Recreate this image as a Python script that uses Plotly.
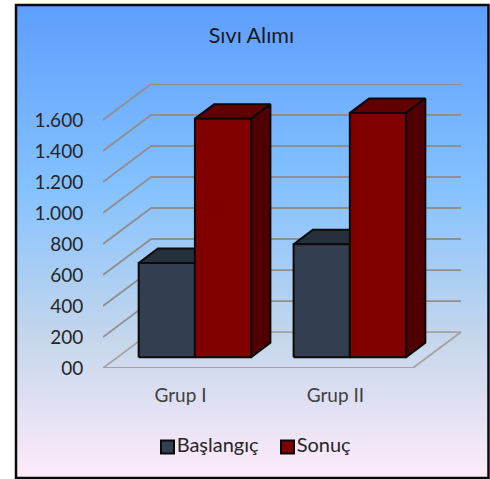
import plotly.graph_objects as go

# Chart content
title = "Sıvı Alımı"
groups = ["Grup I", "Grup II"]
series_names = ["Başlangıç", "Sonuç"]
baslangic = [608, 729]
sonuc = [1539, 1576]
y_ticks = [0, 200, 400, 600, 800, 1000, 1200, 1400, 1600]
y_tick_labels = ["00", "200", "400", "600", "800", "1.000", "1.200", "1.400", "1.600"]

# Colours: front, top, side of each series
styles = [
    {"front": "#333F50", "top": "#262F3C", "side": "#262F3C"},
    {"front": "#800000", "top": "#600000", "side": "#500000"},
]
gradient = [[0, "#FFEBFA"], [0.30, "#C4D6EB"], [0.61, "#85C2FF"], [1, "#5E9EFF"]]
GRID = "#8F8F8F"
FLOOR = "#A3A3A3"
TEXT = "#262626"
OUTLINE = "#0A0A0A"
FONT = "Lato"

# Page and frame, in pixels
W, H = 490, 479
FRAME_L, FRAME_R, FRAME_T, FRAME_B = 16, 488.5, 5, 478

# Oblique projection: depth 0 is the front of the floor, depth 1 the back wall
LEFT, RIGHT, BOTTOM, TOP = 103, 461, 368, 84
DX = 0.3107      # category units of horizontal shift over the full depth
DY = 232         # value units of vertical shift over the full depth
X_MAX = len(groups) + DX
Y_MAX = 1832
BAR_W = 0.363
D_FRONT, D_BACK = 0.30, 0.70

# Key placement on the backdrop axes, which run in page pixels
KEY_X = [167.5, 287.5]
KEY_Y = 447


def project(cat, value, depth):
    return cat + depth * DX, value + depth * DY


def polygon(points):
    xs, ys = zip(*[project(*p) for p in points + points[:1]])
    return list(xs), list(ys)


def face(points, fill):
    xs, ys = polygon(points)
    return go.Scatter(
        x=xs, y=ys, mode="lines", fill="toself", fillcolor=fill,
        line=dict(color=OUTLINE, width=2), xaxis="x2", yaxis="y2",
        hoverinfo="skip", showlegend=False,
    )


fig = go.Figure()

# Full-frame gradient backdrop
fig.add_trace(go.Heatmap(
    x=[FRAME_L, FRAME_R], y=[FRAME_T, FRAME_B], z=[[1, 1], [0, 0]],
    colorscale=gradient, zmin=0, zmax=1,
    zsmooth="best", showscale=False, hoverinfo="skip",
))

# Series key: square swatch followed by the series name
for name, st, kx in zip(series_names, styles, KEY_X):
    fig.add_trace(go.Scatter(
        x=[kx], y=[KEY_Y], mode="markers+text", name=name, text=[name],
        textposition="middle right",
        textfont=dict(family=FONT, size=20, color=TEXT),
        marker=dict(symbol="square", size=13, color=st["front"], line=dict(color=OUTLINE, width=2)),
        hoverinfo="name", showlegend=False,
    ))

# Left wall and back wall gridlines
n = len(groups)
for tick in y_ticks[1:]:
    xs, ys = zip(project(0, tick, 0), project(0, tick, 1), project(n, tick, 1))
    fig.add_trace(go.Scatter(
        x=xs, y=ys, mode="lines", line=dict(color=GRID, width=1.8),
        xaxis="x2", yaxis="y2", hoverinfo="skip", showlegend=False,
    ))

# Floor outline
xs, ys = polygon([(0, 0, 0), (n, 0, 0), (n, 0, 1), (0, 0, 1)])
fig.add_trace(go.Scatter(
    x=xs, y=ys, mode="lines", line=dict(color=FLOOR, width=1.8),
    xaxis="x2", yaxis="y2", hoverinfo="skip", showlegend=False,
))

# Bars: top, side, then front for each series, left to right
for g in range(n):
    for s, values in enumerate([baslangic, sonuc]):
        x0 = g + 0.5 + (s - 1) * BAR_W
        x1 = x0 + BAR_W
        v = values[g]
        st = styles[s]
        fig.add_trace(face([(x0, v, D_FRONT), (x1, v, D_FRONT), (x1, v, D_BACK), (x0, v, D_BACK)], st["top"]))
        fig.add_trace(face([(x1, 0, D_FRONT), (x1, 0, D_BACK), (x1, v, D_BACK), (x1, v, D_FRONT)], st["side"]))
        fig.add_trace(face([(x0, 0, D_FRONT), (x1, 0, D_FRONT), (x1, v, D_FRONT), (x0, v, D_FRONT)], st["front"]))

fig.update_layout(
    template="none",
    width=W, height=H,
    margin=dict(l=0, r=0, t=0, b=0, autoexpand=False),
    paper_bgcolor="white",
    plot_bgcolor="rgba(0,0,0,0)",
    showlegend=False,
    font=dict(family=FONT, size=17, color=TEXT),
    title=dict(text=title, x=251.5 / W, y=1 - 35 / H, xanchor="center", yanchor="middle",
               font=dict(family=FONT, size=21.5, color="#1A1A1A")),
    xaxis=dict(domain=[FRAME_L / W, FRAME_R / W], range=[FRAME_L, FRAME_R],
               visible=False, fixedrange=True),
    yaxis=dict(domain=[1 - FRAME_B / H, 1 - FRAME_T / H], range=[FRAME_B, FRAME_T],
               visible=False, fixedrange=True),
    xaxis2=dict(
        domain=[LEFT / W, RIGHT / W], range=[0, X_MAX], anchor="y2",
        tickmode="array", tickvals=[0.5, 1.5], ticktext=groups,
        ticks="outside", ticklen=10, tickcolor="rgba(0,0,0,0)",
        showgrid=False, zeroline=False, showline=False, fixedrange=True,
        tickfont=dict(family=FONT, size=19, color="#404040"),
    ),
    yaxis2=dict(
        domain=[1 - BOTTOM / H, 1 - TOP / H], range=[0, Y_MAX], anchor="x2",
        tickmode="array", tickvals=y_ticks, ticktext=y_tick_labels,
        ticks="outside", ticklen=15, tickcolor="rgba(0,0,0,0)",
        showgrid=False, zeroline=False, showline=False, fixedrange=True,
        tickfont=dict(family=FONT, size=19, color=TEXT),
    ),
    shapes=[dict(type="rect", xref="paper", yref="paper", x0=FRAME_L / W, x1=FRAME_R / W,
                 y0=1 - FRAME_B / H, y1=1 - FRAME_T / H,
                 line=dict(color=OUTLINE, width=2.5), layer="above")],
)

fig.write_html("out.html", config={"displayModeBar": False})
